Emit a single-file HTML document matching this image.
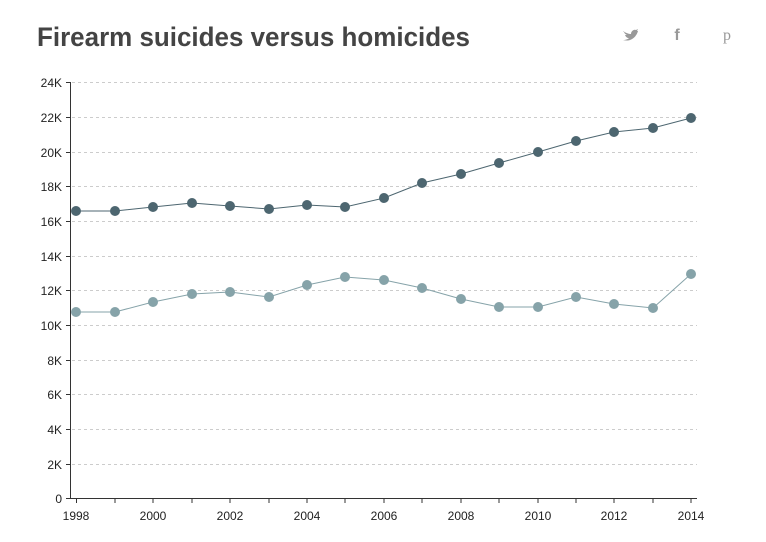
<!DOCTYPE html>
<html><head><meta charset="utf-8"><style>body{margin:0;background:#fff}svg{display:block}</style></head><body>
<svg width="766" height="542" xmlns="http://www.w3.org/2000/svg" font-family="Liberation Sans, sans-serif">
<text x="37" y="46" font-size="27" font-weight="bold" fill="#444" textLength="433" lengthAdjust="spacingAndGlyphs">Firearm suicides versus homicides</text>
<path d="M623,31 C626,33 629,34 631,34 C631,31 634,29 636,30 L638,29 L637,31 L638,31 C636,38 630,42 623,40 C626,40 628,39 629,38 C627,38 626,37 625,35 L627,35 C625,34 624,33 624,31 Z" fill="#999"/>
<text x="677" y="40" font-size="16" font-weight="bold" fill="#999" text-anchor="middle">f</text>
<text x="727" y="40" font-size="16" fill="#999" text-anchor="middle" font-family="Liberation Serif, serif">p</text>
<g stroke="#ccc" stroke-dasharray="3,3" stroke-width="1">
<line x1="72" x2="697" y1="82.5" y2="82.5"/><line x1="72" x2="697" y1="117.5" y2="117.5"/><line x1="72" x2="697" y1="152.5" y2="152.5"/><line x1="72" x2="697" y1="186.5" y2="186.5"/><line x1="72" x2="697" y1="221.5" y2="221.5"/><line x1="72" x2="697" y1="256.5" y2="256.5"/><line x1="72" x2="697" y1="290.5" y2="290.5"/><line x1="72" x2="697" y1="325.5" y2="325.5"/><line x1="72" x2="697" y1="360.5" y2="360.5"/><line x1="72" x2="697" y1="394.5" y2="394.5"/><line x1="72" x2="697" y1="429.5" y2="429.5"/><line x1="72" x2="697" y1="464.5" y2="464.5"/>
</g>
<g stroke="#333" stroke-width="1">
<line x1="70.5" x2="70.5" y1="82" y2="498"/><line x1="70" x2="697" y1="498.5" y2="498.5"/>
<line x1="66" x2="70" y1="82.5" y2="82.5"/><line x1="66" x2="70" y1="117.5" y2="117.5"/><line x1="66" x2="70" y1="152.5" y2="152.5"/><line x1="66" x2="70" y1="186.5" y2="186.5"/><line x1="66" x2="70" y1="221.5" y2="221.5"/><line x1="66" x2="70" y1="256.5" y2="256.5"/><line x1="66" x2="70" y1="290.5" y2="290.5"/><line x1="66" x2="70" y1="325.5" y2="325.5"/><line x1="66" x2="70" y1="360.5" y2="360.5"/><line x1="66" x2="70" y1="394.5" y2="394.5"/><line x1="66" x2="70" y1="429.5" y2="429.5"/><line x1="66" x2="70" y1="464.5" y2="464.5"/><line x1="66" x2="70" y1="498.5" y2="498.5"/>
</g>
<g font-size="12" fill="#222" text-anchor="end">
<text x="62" y="87">24K</text><text x="62" y="122">22K</text><text x="62" y="157">20K</text><text x="62" y="191">18K</text><text x="62" y="226">16K</text><text x="62" y="261">14K</text><text x="62" y="295">12K</text><text x="62" y="330">10K</text><text x="62" y="365">8K</text><text x="62" y="399">6K</text><text x="62" y="434">4K</text><text x="62" y="469">2K</text><text x="62" y="503">0</text>
</g>
<g font-size="12" fill="#222" text-anchor="middle">
<text x="76" y="520">1998</text><text x="153" y="520">2000</text><text x="230" y="520">2002</text><text x="307" y="520">2004</text><text x="384" y="520">2006</text><text x="461" y="520">2008</text><text x="538" y="520">2010</text><text x="614" y="520">2012</text><text x="691" y="520">2014</text>
</g>
<g stroke="#333">
<line x1="76.5" x2="76.5" y1="498" y2="503"/><line x1="115" x2="115" y1="498" y2="503"/><line x1="153" x2="153" y1="498" y2="503"/><line x1="192" x2="192" y1="498" y2="503"/><line x1="230" x2="230" y1="498" y2="503"/><line x1="269" x2="269" y1="498" y2="503"/><line x1="307" x2="307" y1="498" y2="503"/><line x1="345" x2="345" y1="498" y2="503"/><line x1="384" x2="384" y1="498" y2="503"/><line x1="422" x2="422" y1="498" y2="503"/><line x1="461" x2="461" y1="498" y2="503"/><line x1="499" x2="499" y1="498" y2="503"/><line x1="538" x2="538" y1="498" y2="503"/><line x1="576" x2="576" y1="498" y2="503"/><line x1="614" x2="614" y1="498" y2="503"/><line x1="653" x2="653" y1="498" y2="503"/><line x1="691" x2="691" y1="498" y2="503"/>
</g>
<polyline fill="none" stroke="#4d6670" stroke-width="1" points="76,211 115,211 153,207 192,203 230,206 269,209 307,205 345,207 384,198 422,183 461,174 499,163 538,152 576,141 614,132 653,128 691,118"/>
<g fill="#4d6670">
<circle cx="76" cy="211" r="5"/><circle cx="115" cy="211" r="5"/><circle cx="153" cy="207" r="5"/><circle cx="192" cy="203" r="5"/><circle cx="230" cy="206" r="5"/><circle cx="269" cy="209" r="5"/><circle cx="307" cy="205" r="5"/><circle cx="345" cy="207" r="5"/><circle cx="384" cy="198" r="5"/><circle cx="422" cy="183" r="5"/><circle cx="461" cy="174" r="5"/><circle cx="499" cy="163" r="5"/><circle cx="538" cy="152" r="5"/><circle cx="576" cy="141" r="5"/><circle cx="614" cy="132" r="5"/><circle cx="653" cy="128" r="5"/><circle cx="691" cy="118" r="5"/>
</g>
<polyline fill="none" stroke="#86a3a9" stroke-width="1" points="76,312 115,312 153,302 192,294 230,292 269,297 307,285 345,277 384,280 422,288 461,299 499,307 538,307 576,297 614,304 653,308 691,274"/>
<g fill="#86a3a9">
<circle cx="76" cy="312" r="5"/><circle cx="115" cy="312" r="5"/><circle cx="153" cy="302" r="5"/><circle cx="192" cy="294" r="5"/><circle cx="230" cy="292" r="5"/><circle cx="269" cy="297" r="5"/><circle cx="307" cy="285" r="5"/><circle cx="345" cy="277" r="5"/><circle cx="384" cy="280" r="5"/><circle cx="422" cy="288" r="5"/><circle cx="461" cy="299" r="5"/><circle cx="499" cy="307" r="5"/><circle cx="538" cy="307" r="5"/><circle cx="576" cy="297" r="5"/><circle cx="614" cy="304" r="5"/><circle cx="653" cy="308" r="5"/><circle cx="691" cy="274" r="5"/>
</g>
</svg>
</body></html>
